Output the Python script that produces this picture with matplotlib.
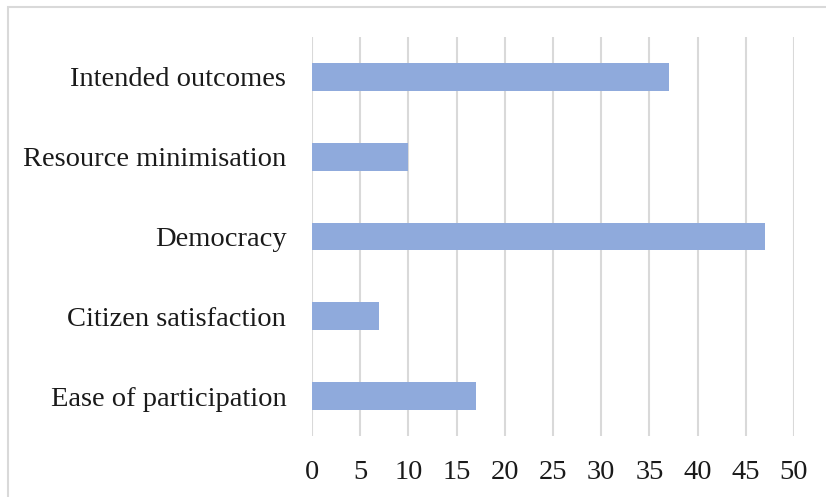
import matplotlib
matplotlib.use("Agg")
import matplotlib.pyplot as plt
from matplotlib.patches import Rectangle

categories = ["Ease of participation", "Citizen satisfaction", "Democracy",
              "Resource minimisation", "Intended outcomes"]
values = [17, 7, 47, 10, 37]
x_ticks = [0, 5, 10, 15, 20, 25, 30, 35, 40, 45, 50]

plt.rcParams["font.family"] = ["Liberation Serif", "DejaVu Serif"]

fig = plt.figure(figsize=(8.26, 4.97), dpi=100)
ax = fig.add_axes([312 / 826, 1 - 436 / 497, (794 - 312) / 826, (436 - 37) / 497])

bar_color = "#8faadc"
grid_color = "#d9d9d9"
text_color = "#1a1a1a"

ax.barh(range(len(categories)), values, height=0.35, color=bar_color, zorder=3)
ax.set_ylim(-0.5, len(categories) - 0.5)
ax.set_xlim(0, 50)
ax.set_xticks(x_ticks)
ax.set_xticklabels([str(t) for t in x_ticks])
ax.set_yticks(range(len(categories)))
ax.set_yticklabels(categories)

for t in x_ticks:
    ax.axvline(t, color=grid_color, lw=1.5, zorder=1)

for s in ax.spines.values():
    s.set_visible(False)
ax.tick_params(axis="both", length=0, labelsize=20.5, colors=text_color)
ax.tick_params(axis="y", pad=18.5)
ax.tick_params(axis="x", pad=17)

# outer chart frame
fig.patches.append(Rectangle((8 / 826, -0.1), 1.1, 1 - 7 / 497 + 0.1,
                             transform=fig.transFigure, fill=False,
                             edgecolor=grid_color, lw=1.5))

fig.savefig("out.png", dpi=100)
